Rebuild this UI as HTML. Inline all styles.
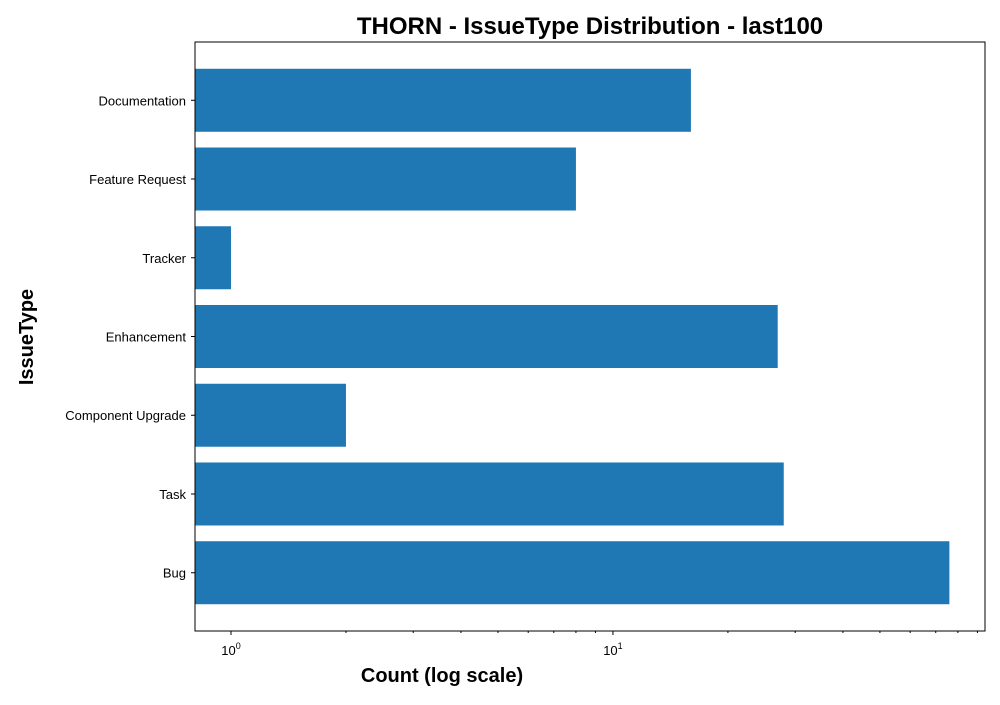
<!DOCTYPE html>
<html><head><meta charset="utf-8"><style>
body{margin:0;background:#fff;}
svg text{font-family:"Liberation Sans","DejaVu Sans",sans-serif;}
</style></head><body>
<svg id="chart" width="1000" height="700">
<text x="590" y="34" text-anchor="middle" font-size="24" font-weight="bold">THORN - IssueType Distribution - last100</text>
<text x="442" y="682" text-anchor="middle" font-size="20" font-weight="bold">Count (log scale)</text>
<text transform="translate(33,337) rotate(-90)" text-anchor="middle" font-size="20" font-weight="bold">IssueType</text>
<g id="bars"></g><g id="ticks"></g>
<rect x="195" y="42" width="790" height="589" fill="none" stroke="#000" stroke-width="1"/>
</svg>
<script>
const categories=["Documentation","Feature Request","Tracker","Enhancement","Component Upgrade","Task","Bug"];
const counts=[16,8,1,27,2,28,76];
const xMin=0.805, xMax=94.2;
const L=195,R=985,T=42,B=631;
const ns="http://www.w3.org/2000/svg";
function xs(v){return L+(Math.log10(v)-Math.log10(xMin))/(Math.log10(xMax)-Math.log10(xMin))*(R-L);}
const n=categories.length;
const step=(B-T)/(n-1+0.8+2*0.05*(n-1+0.8));
const pad=(0.4+0.05*(n-1+0.8))*step;
function yc(i){return T+pad+step*i;}
const bars=document.getElementById('bars'),ticks=document.getElementById('ticks');
function mk(t,a,p){const e=document.createElementNS(ns,t);for(const k in a)e.setAttribute(k,a[k]);p.appendChild(e);return e;}
categories.forEach((c,i)=>{
 const r=mk('rect',{x:L,y:yc(i)-step*0.4,width:xs(counts[i])-L,height:step*0.8,fill:'#1f77b4'},bars);
 
 
 mk('line',{x1:L-4,x2:L,y1:yc(i),y2:yc(i),stroke:'#000'},ticks);
 const t=mk('text',{x:L-9,y:yc(i)+5,'text-anchor':'end','font-size':13},ticks);
 t.textContent=c;
 
 
});
for(let d=0;d<2;d++){for(let m=1;m<10;m++){const v=m*Math.pow(10,d);if(v<xMin||v>xMax)continue;const x=xs(v);
 mk('line',{x1:x,x2:x,y1:B,y2:B+(m==1?4:2),stroke:'#000'},ticks);
 if(m==1){const t=mk('text',{x:x,y:B+24,'text-anchor':'middle','font-size':13},ticks);
  t.innerHTML='10<tspan dy="-6" font-size="9">'+d+'</tspan>';
  
  }
}}
</script>
</body></html>
